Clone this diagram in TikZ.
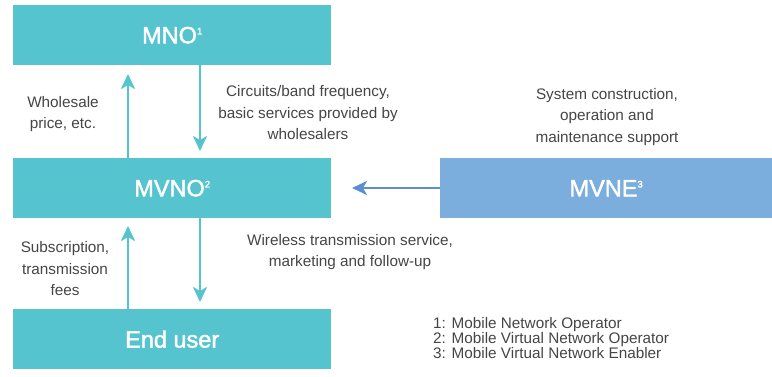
\documentclass[tikz,border=0pt]{standalone}
\usepackage{fontspec}
\setmainfont{Liberation Sans}
\newfontfamily\medfont{Liberation Sans}[FakeBold=1.8]
\usetikzlibrary{arrows.meta}
\definecolor{teal1}{HTML}{56C4CE}
\definecolor{blue1}{HTML}{7BAEDD}
\definecolor{blue2}{HTML}{5A90D2}
\definecolor{txt}{HTML}{454545}
\newcommand{\supnum}[1]{\raisebox{8.8pt}{\fontsize{9.5}{10}\selectfont #1}}
\begin{document}
\begin{tikzpicture}[x=1pt,y=-1pt,
  boxt/.style={fill=teal1,draw=none,minimum width=318pt,minimum height=60pt,anchor=north west,text=white,font=\medfont\fontsize{23.5}{24}\selectfont,inner sep=0pt},
  boxb/.style={boxt,fill=blue1,minimum width=332pt},
  lbl/.style={text=txt,font=\fontsize{15.3}{21.5}\selectfont,align=center,inner sep=0pt},
  arr/.style={draw=teal1,line width=2.6pt,-{Stealth[length=15pt,width=14pt,inset=4pt]}},
  arrb/.style={arr,draw=blue2,fill=blue2},
]
\useasboundingbox (0,0) rectangle (772,376);
\node[boxt] (mno) at (13,5) {MNO\supnum{1}};
\node[boxt] (mvno) at (13,158) {MVNO\supnum{2}};
\node[boxt] (end) at (13,309) {End user};
\node[boxb] (mvne) at (440,158) {MVNE\supnum{3}};
\coordinate (a1s) at (128,158); \coordinate (a1e) at (128,74);
\coordinate (a2s) at (200,65); \coordinate (a2e) at (200,151);
\coordinate (a3s) at (128,309); \coordinate (a3e) at (128,226);
\coordinate (a4s) at (200,218); \coordinate (a4e) at (200,302);
\coordinate (a5s) at (440,188); \coordinate (a5e) at (352,188);
\draw[arr,fill=teal1] (a1s) -- (a1e);
\draw[arr,fill=teal1] (a2s) -- (a2e);
\draw[arr,fill=teal1] (a3s) -- (a3e);
\draw[arr,fill=teal1] (a4s) -- (a4e);
\draw[arrb] (a5s) -- (a5e);
\node[lbl] (l1) at (63,114) {Wholesale\\price, etc.};
\node[lbl] (l2) at (308,113) {Circuits/band frequency,\\basic services provided by\\wholesalers};
\node[lbl] (l3) at (607,117) {System construction,\\operation and\\maintenance support};
\node[lbl] (l4) at (65,269) {Subscription,\\transmission\\fees};
\node[lbl] (l5) at (350,252) {Wireless transmission service,\\marketing and follow-up};
\node[lbl,align=left,anchor=north west,font=\fontsize{15.3}{15}\selectfont] (fn) at (433,317) {1: Mobile Network Operator\\2: Mobile Virtual Network Operator\\3: Mobile Virtual Network Enabler};
\end{tikzpicture}
\end{document}
